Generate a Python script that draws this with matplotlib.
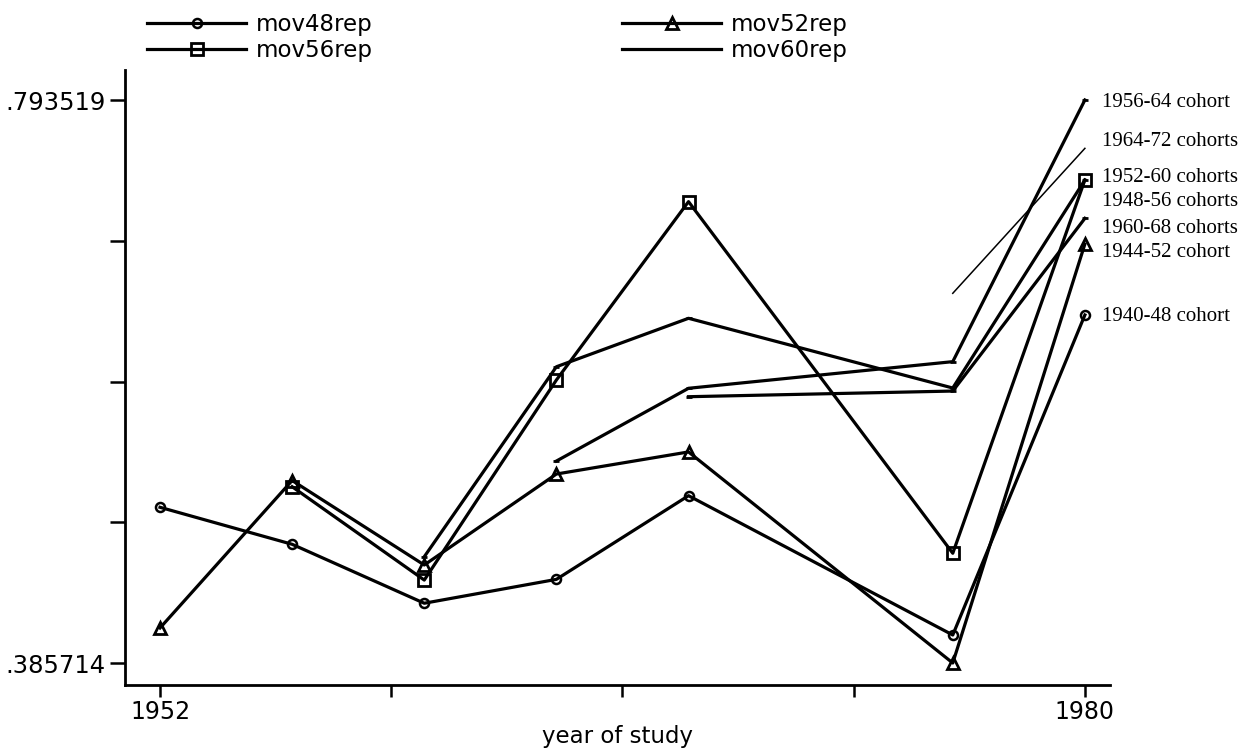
import numpy as np
import matplotlib.pyplot as plt

nan = np.nan

# years of study and cohort series
years = [1952, 1956, 1960, 1964, 1968, 1976, 1980]
mov48rep = [0.4985, 0.4717, 0.4290, 0.4463, 0.5069, 0.4060, 0.6378]
mov52rep = [0.4111, 0.5179, 0.4567, 0.5226, 0.5386, 0.385714, 0.6892]
mov56rep = [nan, 0.5134, 0.4458, 0.5907, 0.7199, 0.4652, 0.7356]
mov60rep = [nan, nan, 0.4627, 0.6003, 0.6354, 0.5849, 0.7356]
mov64rep = [nan, nan, nan, 0.5320, 0.5847, 0.6040, 0.793519]
mov68rep = [nan, nan, nan, nan, 0.5786, 0.5827, 0.7078]
mov72rep = [nan, nan, nan, nan, nan, 0.6535, 0.7585]

# labels at the right end
cohort_labels = ['1956-64 cohort', '1964-72 cohorts', '1952-60 cohorts',
                 '1948-56 cohorts', '1960-68 cohorts', '1944-52 cohort',
                 '1940-48 cohort']
cohort_label_y = [0.79135, 0.76310, 0.73773, 0.72035, 0.70080, 0.68341, 0.63634]

y_min, y_max = 0.385714, 0.793519
x_ticks = [1952, 1959, 1966, 1973, 1980]
x_ticklabels = ['1952', '', '', '', '1980']

plt.rcParams['font.family'] = ['DejaVu Sans']

fig = plt.figure(figsize=(12.56, 7.54), dpi=100)
ax = fig.add_axes([125 / 1256, 69 / 754, 985 / 1256, 615 / 754])

lw = 2.3
l48, = ax.plot(years, mov48rep, color='black', lw=lw, marker='o', ms=6.5,
               mew=1.8, mfc='none', label='mov48rep')
l52, = ax.plot(years, mov52rep, color='black', lw=lw, marker='^', ms=9,
               mew=2.0, mfc='none', label='mov52rep')
l56, = ax.plot(years, mov56rep, color='black', lw=lw, marker='s', ms=8.5,
               mew=2.0, mfc='none', label='mov56rep')
l60, = ax.plot(years, mov60rep, color='black', lw=lw, marker='_', ms=5,
               mew=2.0, label='mov60rep')
ax.plot(years, mov64rep, color='black', lw=lw, marker='_', ms=5, mew=2.0)
ax.plot(years, mov68rep, color='black', lw=lw, marker='_', ms=5, mew=2.0)
ax.plot(years, mov72rep, color='black', lw=1.1)

for lab, yy in zip(cohort_labels, cohort_label_y):
    ax.text(1980.51, yy, lab, family='Liberation Serif', fontsize=15,
            va='center', ha='left', clip_on=False)

ax.set_xlim(1950.94, 1980.76)
ax.set_ylim(0.36978, 0.81525)

ax.set_xticks(x_ticks)
ax.set_xticklabels(x_ticklabels)
ax.set_yticks(np.linspace(y_min, y_max, 5))
ax.set_yticklabels(['.385714', '', '', '', '.793519'])

for s in ['top', 'right']:
    ax.spines[s].set_visible(False)
for s in ['left', 'bottom']:
    ax.spines[s].set_linewidth(2.0)

ax.tick_params(axis='y', length=10.8, width=1.8, labelsize=17.5, pad=3)
ax.tick_params(axis='x', length=8.6, width=1.8, labelsize=17, pad=2)
ax.set_xlabel('year of study', fontsize=16.5, labelpad=1)

# legend fills row by row: 48, 52 / 56, 60
fig.legend([l48, l56, l52, l60], ['mov48rep', 'mov56rep', 'mov52rep', 'mov60rep'],
           loc='upper left', bbox_to_anchor=(136 / 1256, 1 - 2 / 754),
           ncol=2, frameon=False, fontsize=16.5, borderpad=0,
           handlelength=4.3, handletextpad=0.42, columnspacing=10.9,
           labelspacing=0.12)

fig.savefig('out.png', dpi=100)
